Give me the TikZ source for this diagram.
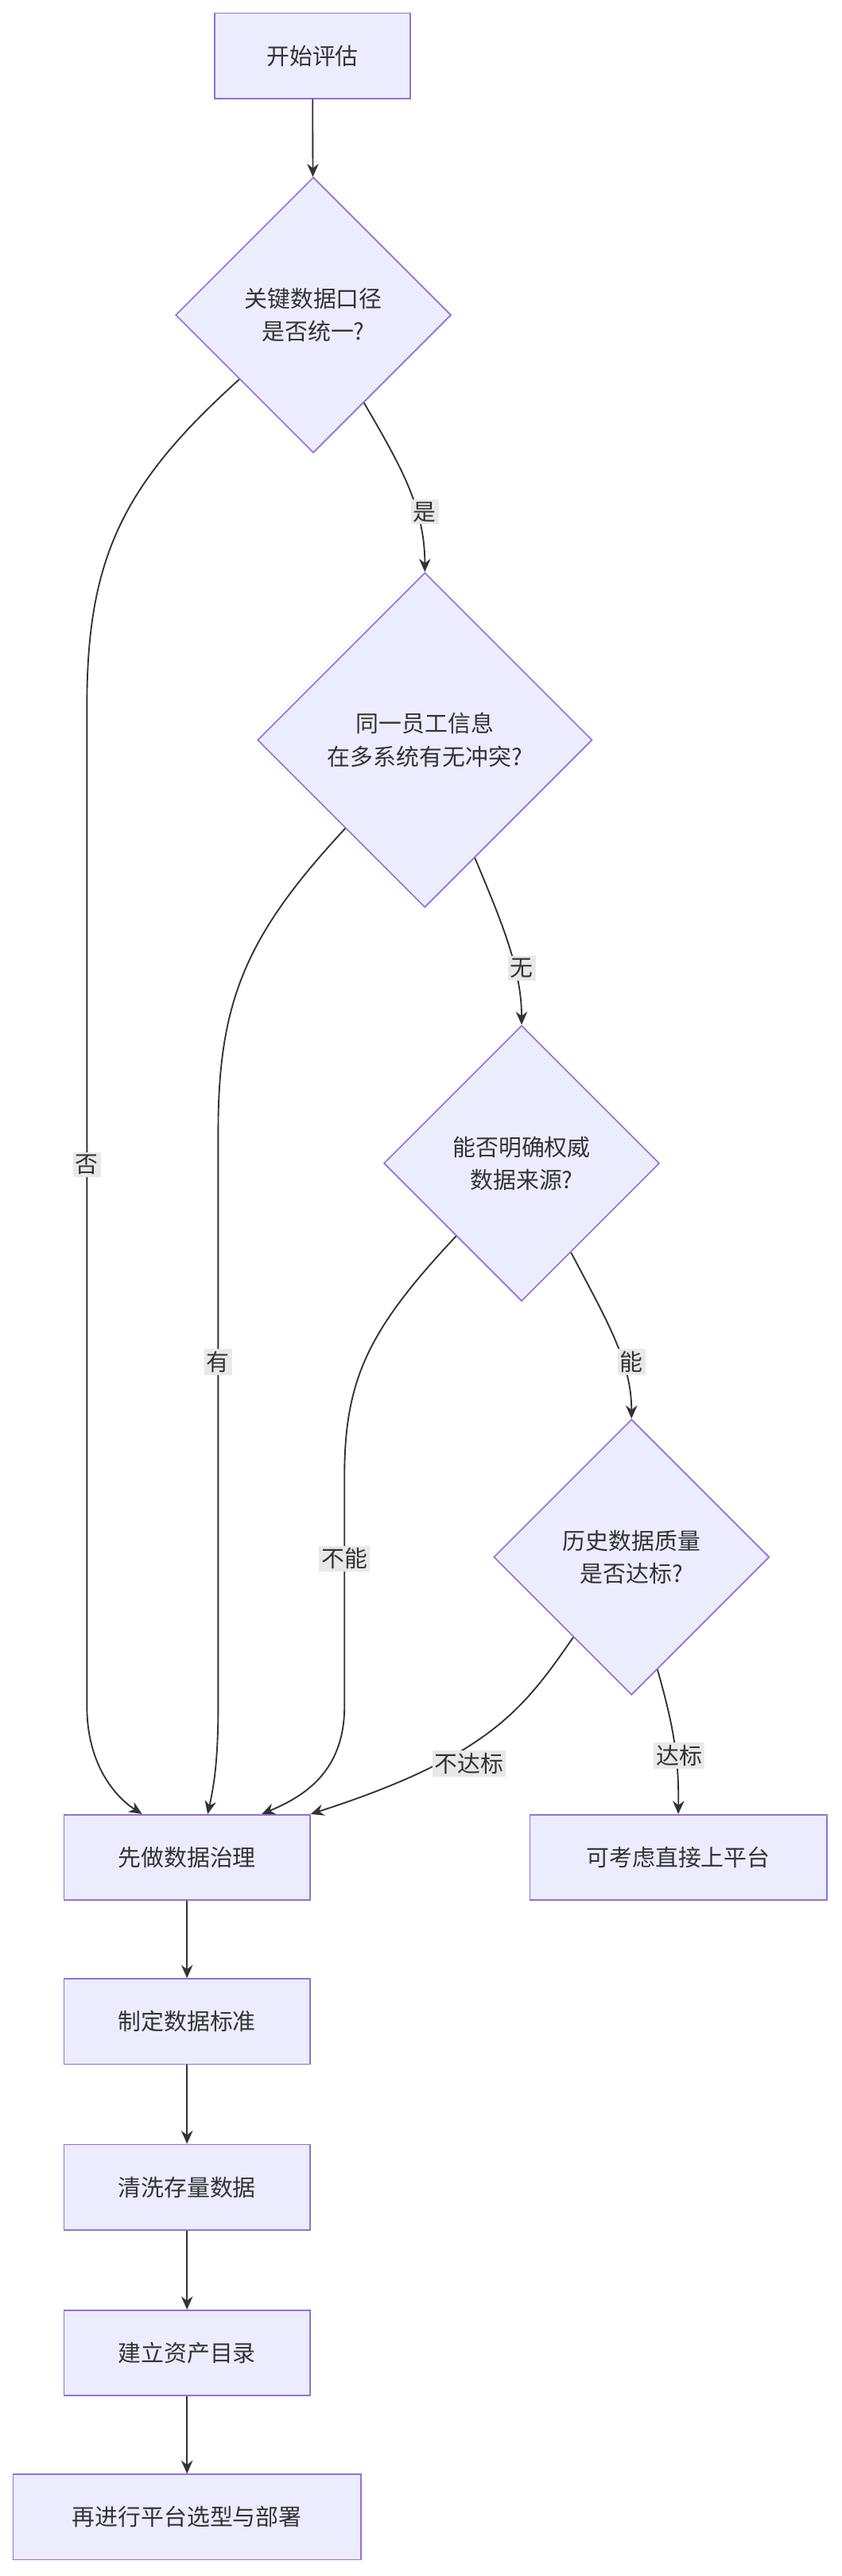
\documentclass[tikz,border=0pt]{standalone}
\usepackage{fontspec}
\setmainfont{Noto Sans CJK SC}
\usetikzlibrary{shapes.geometric,arrows.meta}
\definecolor{nfill}{HTML}{ECECFF}
\definecolor{nline}{HTML}{9370DB}
\definecolor{eline}{HTML}{333333}
\definecolor{lbg}{HTML}{E8E8E8}
\begin{document}
\begin{tikzpicture}[x=1pt,y=-1pt,
  box/.style={draw=nline,fill=nfill,line width=0.8pt,minimum height=52pt,font=\fontsize{14}{17}\selectfont,text=eline},
  dia/.style={diamond,draw=nline,fill=nfill,line width=0.8pt,inner sep=0pt,align=center,font=\fontsize{14}{20}\selectfont,text=eline},
  arr/.style={draw=eline,line width=0.9pt,-{Stealth[length=8pt,width=7pt]}},
  lab/.style={fill=lbg,inner sep=1.5pt,font=\fontsize{14}{17}\selectfont,text=eline}]
\useasboundingbox (0,0) rectangle (513,1570);
\node[box,minimum width=119pt] (start) at (190.5,34) {开始评估};
\node[dia,minimum width=168pt,minimum height=168pt] (d1) at (191,192) {关键数据口径\\是否统一?};
\node[dia,minimum width=204pt,minimum height=204pt] (d2) at (259,451) {同一员工信息\\在多系统有无冲突?};
\node[dia,minimum width=168pt,minimum height=168pt] (d3) at (318,709) {能否明确权威\\数据来源?};
\node[dia,minimum width=168pt,minimum height=168pt] (d4) at (385,949) {历史数据质量\\是否达标?};
\node[box,minimum width=150pt] (gov) at (114,1132) {先做数据治理};
\node[box,minimum width=181pt] (plat) at (413.5,1132) {可考虑直接上平台};
\node[box,minimum width=150pt] (std) at (114,1232) {制定数据标准};
\node[box,minimum width=150pt] (clean) at (114,1333) {清洗存量数据};
\node[box,minimum width=150pt] (cat) at (114,1434) {建立资产目录};
\node[box,minimum width=212pt] (dep) at (114,1534) {再进行平台选型与部署};

\draw[arr] (start) -- (d1);
\draw[arr] (d1.300) .. controls (245,285) and (259,310) .. (d2.north);
\draw[arr] (d1.221) .. controls (75,295) and (53,340) .. (53,430) -- (53,1040) .. controls (53,1075) and (70,1095) .. ([xshift=48pt]gov.north west);
\draw[arr] (d2.293) .. controls (305,560) and (318,590) .. (d3.north);
\draw[arr] (d2.228) .. controls (150,570) and (133,610) .. (133,690) -- (133,1040) .. controls (133,1075) and (130,1090) .. ([xshift=88pt]gov.north west);
\draw[arr] (d3.299) .. controls (370,805) and (385,830) .. (d4.north);
\draw[arr] (d3.228) .. controls (225,810) and (210,840) .. (210,900) -- (210,1040) .. controls (210,1080) and (185,1095) .. ([xshift=121pt]gov.north west);
\draw[arr] (d4.283) .. controls (410,1050) and (414,1070) .. (plat.north);
\draw[arr] (d4.234) .. controls (320,1040) and (300,1070) .. (gov.north east);
\draw[arr] (gov) -- (std);
\draw[arr] (std) -- (clean);
\draw[arr] (clean) -- (cat);
\draw[arr] (cat) -- (dep);

\node[lab] at (259,312) {是};
\node[lab] at (53,710) {否};
\node[lab] at (318,590) {无};
\node[lab] at (133,830) {有};
\node[lab] at (385,830) {能};
\node[lab] at (210,950) {不能};
\node[lab] at (414,1070) {达标};
\node[lab] at (286,1075) {不达标};
\end{tikzpicture}
\end{document}
